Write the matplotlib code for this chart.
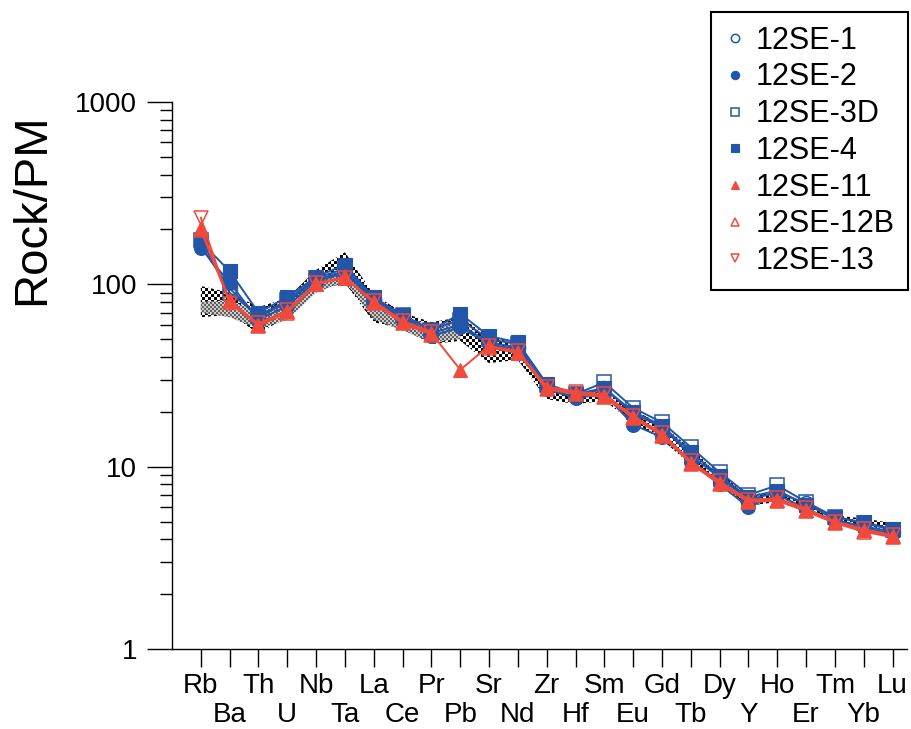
import numpy as np
import matplotlib
matplotlib.use("Agg")
import matplotlib.pyplot as plt
import matplotlib.patches as mpatches
from matplotlib.ticker import LogLocator, FixedLocator, FixedFormatter, NullFormatter

plt.rcParams["font.family"] = ["Liberation Sans", "DejaVu Sans"]

# primitive-mantle normalised trace elements
elements = ["Rb", "Ba", "Th", "U", "Nb", "Ta", "La", "Ce", "Pr", "Pb", "Sr", "Nd", "Zr",
            "Hf", "Sm", "Eu", "Gd", "Tb", "Dy", "Y", "Ho", "Er", "Tm", "Yb", "Lu"]

nan = np.nan
se_1 = [162, 95, 66, 80, 106, 118, 83, 66, 54, 60, 48, 45, 27, 24, 27, 19.5, 16.5, 11.5,
        8.7, 6.6, 7.2, 6.3, 5.1, 4.7, 4.4]
se_2 = [158, 102, 64, 76, 104, 115, 82, 64, 52, 58, 47, 44, 26.5, 23.8, 25, 17, 14.5, 10.6,
        8.0, 6.0, 7.0, 5.9, 5.0, 4.6, 4.3]
se_3d = [176, 90, 67, 82, 108, 122, 84, 68, 56, 64, 50, 47, 28, 25, 29, 21, 17.5, 12.8,
         9.3, 7.0, 7.9, 6.4, 5.3, 4.9, 4.5]
se_4 = [171, 118, 70, 85, 110, 128, 85, 68, 56, 69, 52, 48, 28.5, 25, 27, 20, 16.8, 12,
        8.9, 6.8, 7.4, 6.2, 5.3, 4.95, 4.55]
se_11 = [204, 82, 60, 71, 101, 108, 80, 62, 54, 34, 46, 42, 27, 25.5, 24.5, 18.7, 15, 10.5,
         8.1, 6.5, 6.6, 5.8, 4.95, 4.5, 4.15]
se_12b = [198, 80, 59, 70, 100, 110, 79, 61, 53, nan, 45, 42, 26.5, 25, 24, 18.5, 14.8, 10.4,
          8.0, 6.4, 6.5, 5.7, 4.9, 4.4, 4.1]
se_13 = [232, 78, 61, 72, 102, 109, 81, 63, 55, nan, 46, 43, 27.5, 25.8, 25, 19, 15.3, 10.7,
         8.3, 6.6, 6.7, 5.9, 5.0, 4.55, 4.2]

# reference field envelopes
field_hi = [98, 90, 75, 84, 120, 150, 88, 70, 62, 66, 52, 47, 27, 25, 26, 20.5, 17, 12.5,
            9.3, 7.0, 7.3, 6.3, 5.4, 5.2, 4.9]
field_lo = [66, 68, 54, 66, 92, 102, 62, 57, 47, 49, 37, 38.5, 23.5, 22, 23, 17.5, 14, 10.3,
            8.0, 6.1, 6.4, 5.7, 5.0, 4.8, 4.4]
inner_hi = [80, 82, 70, 78, 105, 120, 79, 66, 60, 63]
inner_lo = [70, 66, 57, 64, 90, 104, 64, 56, 48, 50]

BLUE = "#2356a8"
RED = "#ef4a3c"
samples = [
    ("12SE-1", se_1, BLUE, "o", False),
    ("12SE-2", se_2, BLUE, "o", True),
    ("12SE-3D", se_3d, BLUE, "s", False),
    ("12SE-4", se_4, BLUE, "s", True),
    ("12SE-11", se_11, RED, "^", True),
    ("12SE-12B", se_12b, RED, "^", False),
    ("12SE-13", se_13, RED, "v", False),
]

W, H = 911, 729
fig = plt.figure(figsize=(W / 100, H / 100), dpi=100)
ax_l, ax_r, ax_b, ax_t = 172, 907, 649, 102
ax = fig.add_axes([ax_l / W, 1 - ax_b / H, (ax_r - ax_l) / W, (ax_b - ax_t) / H])
ax.set_yscale("log")

x = np.arange(len(elements))


def checker(nx, ny, cell, c1, c2):
    ii, jj = np.meshgrid(np.arange(nx) // cell, np.arange(ny) // cell)
    mask = ((ii + jj) % 2).astype(bool)
    img = np.empty((ny, nx, 3))
    img[mask] = c1
    img[~mask] = c2
    return img


def patterned_field(xs, hi, lo, img, z):
    verts = np.column_stack([np.concatenate([xs, xs[::-1]]),
                             np.concatenate([hi, lo[::-1]])])
    poly = mpatches.Polygon(verts, closed=True, transform=ax.transData)
    im = ax.imshow(img, extent=[0, 1, 0, 1], transform=ax.transAxes, aspect="auto",
                   interpolation="nearest", zorder=z)
    im.set_clip_path(poly)


npx, npy = ax_r - ax_l, ax_b - ax_t
patterned_field(x, np.array(field_hi), np.array(field_lo),
                checker(npx, npy, 3, (0, 0, 0), (1, 1, 1)), 1)
patterned_field(x[:len(inner_hi)], np.array(inner_hi), np.array(inner_lo),
                checker(npx, npy, 2, (0.38, 0.38, 0.38), (0.8, 0.8, 0.8)), 1.5)

for name, vals, col, mk, filled in samples:
    ax.plot(x, vals, color=col, lw=1.4, marker=mk, ms=10,
            mfc=col if filled else "none", mec=col, mew=1.1 if not filled else 0.8,
            label=name, zorder=3)

ax.set_xlim(-1.0, 24.5)
ax.set_ylim(1, 1000)

for s in ("top", "right"):
    ax.spines[s].set_visible(False)
for s in ("left", "bottom"):
    ax.spines[s].set_linewidth(1.0)

ax.set_yticks([1, 10, 100, 1000])
ax.set_yticklabels(["1", "10", "100", "1000"])
ax.yaxis.set_minor_locator(LogLocator(base=10, subs=np.arange(2, 10), numticks=10))
ax.yaxis.set_minor_formatter(NullFormatter())
ax.tick_params(axis="y", which="major", direction="out", length=18, width=1.0,
               labelsize=20, pad=7)
ax.tick_params(axis="y", which="minor", direction="out", length=9, width=1.0)

# alternate element labels on two rows: even ones on major ticks, odd ones on minor
ax.xaxis.set_major_locator(FixedLocator(x[::2]))
ax.xaxis.set_major_formatter(FixedFormatter(elements[::2]))
ax.xaxis.set_minor_locator(FixedLocator(x[1::2]))
ax.xaxis.set_minor_formatter(FixedFormatter(elements[1::2]))
ax.tick_params(axis="x", which="both", direction="out", length=13, width=1.0,
               labelsize=20)
ax.tick_params(axis="x", which="major", pad=4)
ax.tick_params(axis="x", which="minor", pad=25)

fig.text(32 / W, 1 - 209 / H, "Rock/PM", rotation=90, fontsize=34,
         ha="center", va="center")

leg = ax.legend(loc="upper right", bbox_to_anchor=(908 / W, 1 - 12 / H),
                bbox_transform=fig.transFigure, fontsize=22, frameon=True,
                fancybox=False, framealpha=1, edgecolor="black", markerscale=0.6,
                handlelength=0.7, handletextpad=0.3, labelspacing=0.22,
                borderpad=0.45, borderaxespad=0)
leg.get_frame().set_linewidth(1.5)
for h in leg.get_lines():
    h.set_linestyle("none")

fig.savefig("out.png", dpi=100)
